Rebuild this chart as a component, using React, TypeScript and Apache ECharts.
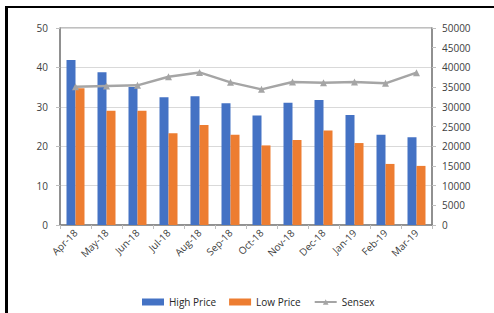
import React, { useEffect, useRef } from "react";
import * as echarts from "echarts";

const categories = ["Apr-18", "May-18", "Jun-18", "Jul-18", "Aug-18", "Sep-18", "Oct-18", "Nov-18", "Dec-18", "Jan-19", "Feb-19", "Mar-19"];
const highPrice = [41.9, 38.8, 35.0, 32.4, 32.7, 30.9, 27.8, 31.0, 31.7, 27.9, 22.9, 22.3];
const lowPrice = [34.7, 29.0, 29.0, 23.3, 25.4, 22.9, 20.2, 21.6, 24.0, 20.8, 15.5, 15.0];
const sensex = [35100, 35270, 35440, 37620, 38730, 36200, 34430, 36280, 36100, 36280, 35950, 38670];

const FONT = "Open Sans";

export default function App() {
  const ref = useRef<HTMLDivElement>(null);
  useEffect(() => {
    if (!ref.current) return;
    const chart = echarts.init(ref.current, null, { renderer: "svg" });
    chart.setOption({
      animation: false,
      backgroundColor: "#ffffff",
      textStyle: { fontFamily: FONT },
      grid: {
        left: 60,
        right: 62,
        top: 28,
        bottom: 88,
        show: true,
        borderColor: "#808080",
        borderWidth: 1,
      },
      legend: {
        left: 137,
        top: 292,
        itemWidth: 22,
        itemHeight: 7,
        itemGap: 13,
        textStyle: { fontFamily: FONT, fontSize: 10, color: "#262626" },
        data: [
          { name: "High Price", icon: "rect" },
          { name: "Low Price", icon: "rect" },
          { name: "Sensex" },
        ],
      },
      xAxis: {
        type: "category",
        data: categories,
        axisLine: { lineStyle: { color: "#808080", width: 1.5 } },
        axisTick: { show: true, length: 4, lineStyle: { color: "#bfbfbf" } },
        axisLabel: { rotate: 45, fontSize: 10, color: "#404040", margin: 6, fontFamily: FONT },
      },
      yAxis: [
        {
          type: "value",
          min: 0,
          max: 50,
          interval: 10,
          axisLine: { show: true, lineStyle: { color: "#808080", width: 1.5 } },
          axisTick: { show: true, length: 4, lineStyle: { color: "#bfbfbf" } },
          splitLine: { show: true, lineStyle: { color: "#d9d9d9" } },
          axisLabel: { fontSize: 10, color: "#404040", margin: 12, fontFamily: FONT },
        },
        {
          type: "value",
          min: 0,
          max: 50000,
          interval: 5000,
          position: "right",
          axisLine: { show: true, lineStyle: { color: "#808080", width: 1.5 } },
          axisTick: { show: true, length: 4, lineStyle: { color: "#bfbfbf" } },
          splitLine: { show: false },
          axisLabel: {
            fontSize: 10,
            color: "#404040",
            margin: 10,
            fontFamily: FONT,
            formatter: (v: number) => String(v),
          },
        },
      ],
      series: [
        {
          name: "High Price",
          type: "bar",
          data: highPrice,
          barWidth: 9,
          barGap: "0%",
          itemStyle: { color: "#4472C4" },
        },
        {
          name: "Low Price",
          type: "bar",
          data: lowPrice,
          barWidth: 9,
          barGap: "0%",
          itemStyle: { color: "#ED7D31" },
        },
        {
          name: "Sensex",
          type: "line",
          yAxisIndex: 1,
          data: sensex,
          symbol: "triangle",
          symbolSize: 7,
          lineStyle: { color: "#A5A5A5", width: 2.5 },
          itemStyle: { color: "#A5A5A5" },
        },
      ],
      graphic: [
        { type: "rect", shape: { x: 5, y: 6, width: 489, height: 2 }, style: { fill: "#000" } },
        { type: "rect", shape: { x: 5, y: 6, width: 3, height: 307 }, style: { fill: "#000" } },
      ],
    });
    return () => chart.dispose();
  }, []);
  return <div ref={ref} style={{ position: "fixed", left: 0, top: 0, width: 494, height: 313 }} />;
}
